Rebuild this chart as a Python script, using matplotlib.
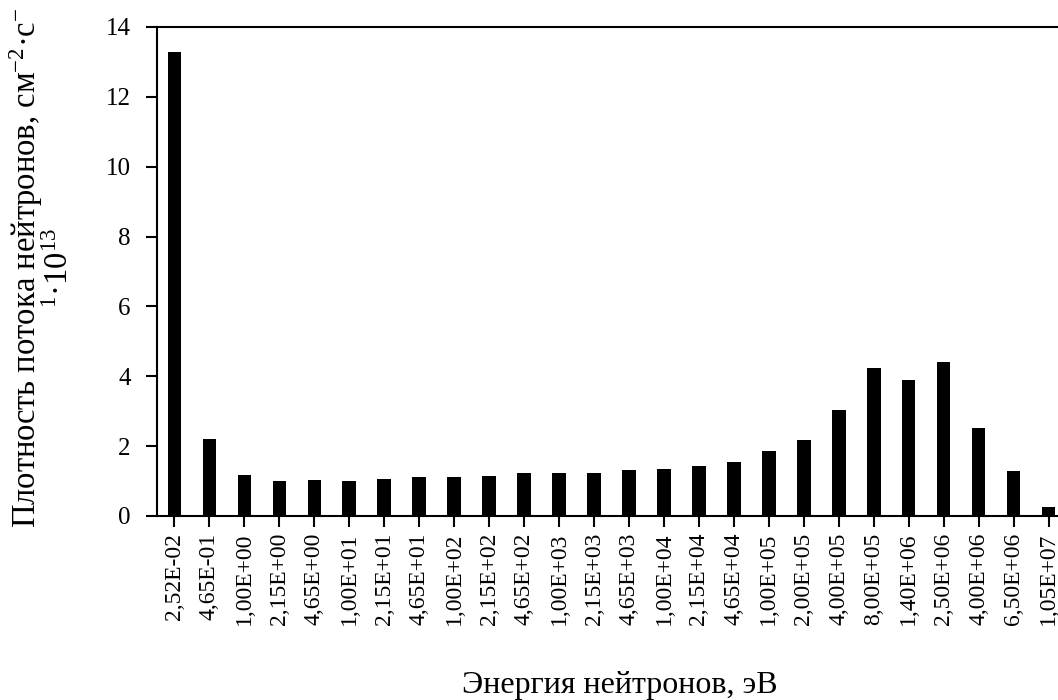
import numpy as np
import matplotlib
matplotlib.use("Agg")
import matplotlib.pyplot as plt

plt.rcParams['font.family'] = ['Liberation Serif', 'DejaVu Serif']
plt.rcParams['mathtext.fontset'] = 'custom'
plt.rcParams['mathtext.rm'] = 'Liberation Serif'
plt.rcParams['mathtext.it'] = 'Liberation Serif:italic'

# energy groups (eV) and flux density (x 1e13 cm^-2 s^-1)
energies = ["2,52E-02", "4,65E-01", "1,00E+00", "2,15E+00", "4,65E+00",
            "1,00E+01", "2,15E+01", "4,65E+01", "1,00E+02", "2,15E+02",
            "4,65E+02", "1,00E+03", "2,15E+03", "4,65E+03", "1,00E+04",
            "2,15E+04", "4,65E+04", "1,00E+05", "2,00E+05", "4,00E+05",
            "8,00E+05", "1,40E+06", "2,50E+06", "4,00E+06", "6,50E+06",
            "1,05E+07"]
flux = [13.29, 2.20, 1.17, 1.01, 1.02, 0.99, 1.07, 1.11, 1.13, 1.15,
        1.22, 1.24, 1.24, 1.31, 1.34, 1.42, 1.54, 1.85, 2.17, 3.03,
        4.25, 3.89, 4.41, 2.53, 1.28, 0.25]

fig = plt.figure(figsize=(10.58, 7), dpi=100)
# plot area runs past the right edge, as in the original
ax = fig.add_axes([157 / 1058, 184 / 700, 909 / 1058, 489 / 700])

x = np.arange(len(energies))
ax.bar(x, flux, width=0.39, color='black')

ax.set_xlim(-0.5, len(energies) - 0.5)
ax.set_ylim(0, 14)
ax.set_yticks(range(0, 15, 2))
ax.set_xticks(x)
ax.set_xticklabels(energies, rotation=90)

for side in ['left', 'top', 'bottom']:
    ax.spines[side].set_linewidth(1.5)
ax.spines['right'].set_visible(False)
ax.tick_params(axis='both', direction='out', length=8, width=1.5)
ax.tick_params(axis='y', labelsize=18, pad=11)
ax.tick_params(axis='x', labelsize=17, pad=4)

fig.text(41 / 1058, 1 - 268 / 700,
         "Плотность потока нейтронов, см$^{-2}$·с$^{-}$\n$^{1}$·10$^{13}$",
         fontsize=23.5, rotation=90, ha='center', va='center',
         multialignment='center', linespacing=0.95)
fig.text(620 / 1058, 1 - 693 / 700, "Энергия нейтронов, эВ",
         fontsize=23, ha='center', va='baseline')

fig.savefig("out.png", dpi=100)
